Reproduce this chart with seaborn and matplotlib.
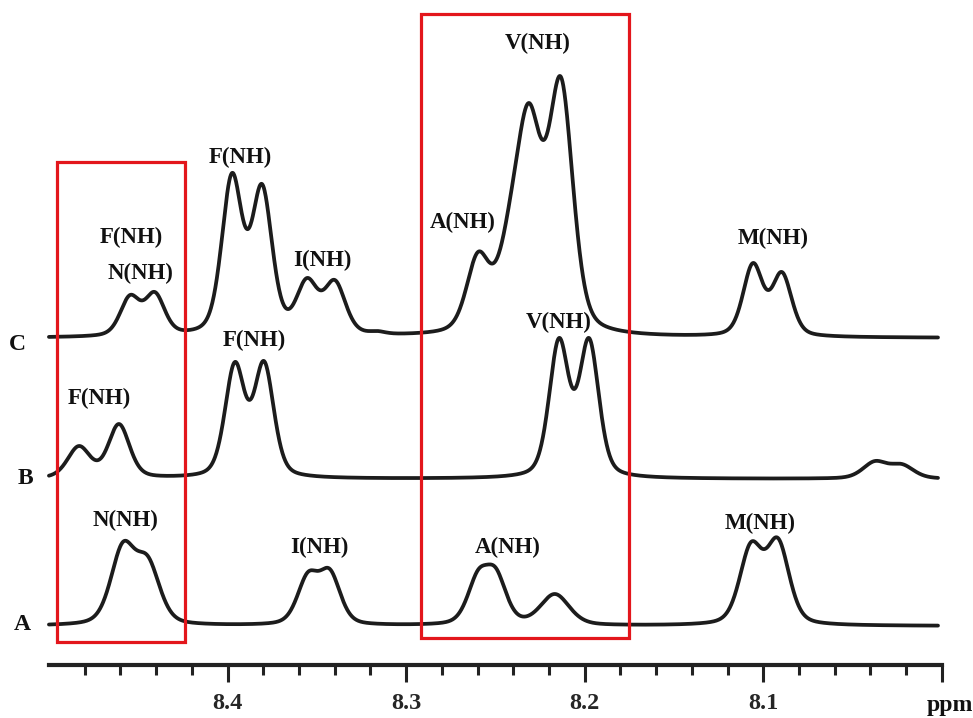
import numpy as np
import pandas as pd
import matplotlib
matplotlib.use("Agg")
import matplotlib.pyplot as plt
import seaborn as sns
from matplotlib.patches import Rectangle
from matplotlib.ticker import FixedLocator

# ---- Data: peak lists per trace ----
# ppm position, apparent height above the baseline, line width (FWHM, ppm)
A_ppm = [8.4586, 8.4446, 8.3550, 8.3427, 8.2598, 8.2497, 8.2167, 8.1069, 8.0918]
A_height = [84, 70, 54, 57, 56, 58, 32, 84, 88]
A_fwhm = [0.016, 0.016, 0.014, 0.014, 0.014, 0.014, 0.019, 0.015, 0.015]

B_ppm = [8.4832, 8.4608, 8.3959, 8.3796, 8.2144, 8.1976, 8.0375, 8.0224]
B_height = [33, 55, 117, 118, 141, 141, 18, 15]
B_fwhm = [0.015, 0.014, 0.013, 0.013, 0.013, 0.013, 0.016, 0.016]

C_ppm = [8.4546, 8.4407, 8.3975, 8.3807, 8.3555, 8.3399, 8.3160,
         8.2598, 8.2424, 8.2312, 8.2133, 8.1058, 8.0896]
C_height = [43, 46, 165, 154, 60, 58, 7, 86, 133, 235, 261, 75, 66]
C_fwhm = [0.013, 0.013, 0.0135, 0.0135, 0.014, 0.014, 0.010,
          0.015, 0.017, 0.017, 0.016, 0.013, 0.013]

trace_names = ["A", "B", "C"]
trace_offsets = [0, 147, 288]

# peak annotations: (trace, text, ppm, height-level)
label_trace = ["C", "C", "C", "C", "C", "C", "C", "B", "B", "B", "A", "A", "A", "A"]
label_text = ["F(NH)", "N(NH)", "F(NH)", "I(NH)", "A(NH)", "V(NH)", "M(NH)",
              "F(NH)", "F(NH)", "V(NH)", "N(NH)", "I(NH)", "A(NH)", "M(NH)"]
label_ppm = [8.4541, 8.4485, 8.3931, 8.3471, 8.2682, 8.2265, 8.0946,
             8.4720, 8.3852, 8.2144, 8.4569, 8.3488, 8.2430, 8.1019]
label_level = [389, 353, 469, 366, 404, 583, 388,
               228, 286, 304, 106, 79, 79, 103]

major_ticks = [8.4, 8.3, 8.2, 8.1, 8.0]
major_labels = ["8.4", "8.3", "8.2", "8.1", ""]

# ---- build the spectra ----
ppm = np.linspace(8.5, 8.0022, 2400)


def pvoigt(x, c, fwhm, eta=0.35):
    s = fwhm / 2.3548
    g = np.exp(-0.5 * ((x - c) / s) ** 2)
    l = 1.0 / (1.0 + ((x - c) / (fwhm / 2)) ** 2)
    return (1 - eta) * g + eta * l


def spectrum(pos, hts, wid):
    pos = np.asarray(pos); hts = np.asarray(hts, float); wid = np.asarray(wid)
    M = np.array([[pvoigt(p, c, w) for c, w in zip(pos, wid)] for p in pos])
    amps = np.linalg.solve(M, hts)
    y = np.zeros_like(ppm)
    for a, c, w in zip(amps, pos, wid):
        y += a * pvoigt(ppm, c, w)
    return y


peaks = {"A": (A_ppm, A_height, A_fwhm),
         "B": (B_ppm, B_height, B_fwhm),
         "C": (C_ppm, C_height, C_fwhm)}

frames = []
for name, off in zip(trace_names, trace_offsets):
    y = spectrum(*peaks[name]) + off
    frames.append(pd.DataFrame({"ppm": ppm, "intensity": y, "trace": name}))
df = pd.concat(frames, ignore_index=True)

# ---- plot ----
sns.set_style("white")
plt.rcParams["font.family"] = ["Liberation Serif", "DejaVu Serif"]
plt.rcParams["font.weight"] = "bold"

fig = plt.figure(figsize=(9.73, 7.18), dpi=100)
ax = fig.add_axes([0, 0, 1, 1])

sns.lineplot(data=df, x="ppm", y="intensity", hue="trace",
             palette={"A": "#1c1c1c", "B": "#1c1c1c", "C": "#1c1c1c"},
             estimator=None, sort=False, legend=False, lw=2.7, ax=ax)

ax.set_xlim(8.5274, 7.9826)
ax.set_ylim(-92, 626)
ax.set_xlabel("")
ax.set_ylabel("")

for s in ["top", "left", "right"]:
    ax.spines[s].set_visible(False)
ax.spines["bottom"].set_position(("data", -39))
ax.spines["bottom"].set_bounds(8.5, 8.0)
ax.spines["bottom"].set_linewidth(3.0)
ax.spines["bottom"].set_color("#222222")

ax.xaxis.set_major_locator(FixedLocator(major_ticks))
ax.set_xticklabels(major_labels)
ax.xaxis.set_minor_locator(FixedLocator(list(np.round(np.arange(8.02, 8.49, 0.02), 2))))
ax.tick_params(axis="x", which="both", bottom=True, direction="out")
ax.tick_params(axis="x", which="major", length=12, width=2.2,
               color="#222222", labelsize=17.5, pad=8)
ax.tick_params(axis="x", which="minor", length=7, width=2.2,
               color="#222222")
ax.set_yticks([])
for t in ax.get_xticklabels():
    t.set_fontweight("bold")

ax.text(7.9955, -79, "ppm", ha="center", va="center", fontsize=17,
        fontweight="bold", color="#111111")

# trace letters
letter_ppm = {"A": 8.5151, "B": 8.5134, "C": 8.5174}
letter_level = {"A": 1, "B": 148, "C": 281}
for name in trace_names:
    ax.text(letter_ppm[name], letter_level[name], name, ha="center", va="center",
            fontsize=17, fontweight="bold", color="#111111")

for tr, txt, x, lv in zip(label_trace, label_text, label_ppm, label_level):
    ax.text(x, lv, txt, ha="center", va="center", fontsize=16.5,
            fontweight="bold", color="#111111")

# red highlight boxes
red = "#e3161c"
ax.add_patch(Rectangle((8.4955, -16), 8.4239 - 8.4955, 480, fill=False,
                       edgecolor=red, lw=2.3, zorder=5))
ax.add_patch(Rectangle((8.2917, -12), 8.1753 - 8.2917, 624, fill=False,
                       edgecolor=red, lw=2.3, zorder=5))

fig.savefig("out.png", dpi=100)
